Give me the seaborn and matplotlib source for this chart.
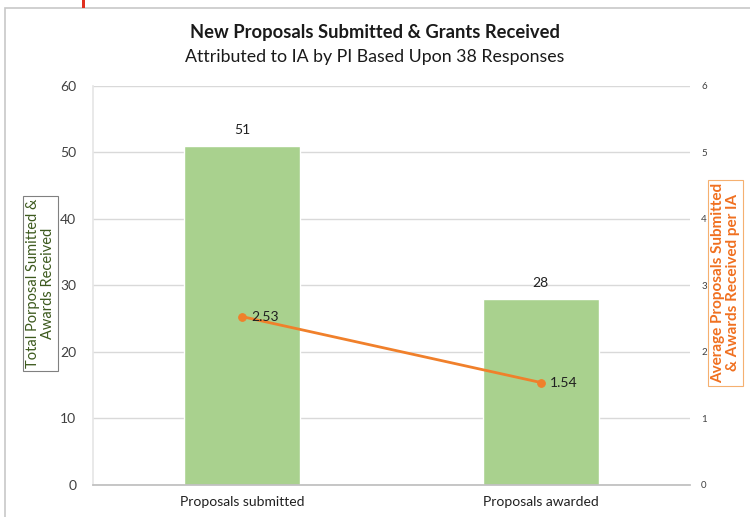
import matplotlib
matplotlib.use("Agg")
import matplotlib.pyplot as plt
import seaborn as sns
import pandas as pd
from matplotlib.patches import Rectangle

categories = ["Proposals submitted", "Proposals awarded"]
totals = [51, 28]
averages = [2.53, 1.54]
left_ticks = [0, 10, 20, 30, 40, 50, 60]
right_ticks = [0, 1, 2, 3, 4, 5, 6]

title = "New Proposals Submitted & Grants Received"
subtitle = "Attributed to IA by PI Based Upon 38 Responses"
left_label = "Total Porposal Sumitted &\nAwards Received"
right_label = "Average Proposals Submitted\n& Awards Received per IA"

sns.set_theme(style="white")
plt.rcParams["font.family"] = ["Lato", "DejaVu Sans"]

bar_color = "#a9d18e"
line_color = "#f0802b"

df = pd.DataFrame({"category": categories, "total": totals, "average": averages})

fig = plt.figure(figsize=(7.5, 5.17), dpi=100)
ax = fig.add_axes([0.124, 0.062, 0.796, 0.772])

sns.barplot(data=df, x="category", y="total", color=bar_color, width=0.39,
            saturation=1, ax=ax, zorder=2)
ax.set_xlim(-0.5, 1.5)
ax.set_ylim(0, 60)
ax.set_yticks(left_ticks)
ax.set_yticklabels([str(t) for t in left_ticks], fontsize=10, color="#404040")
ax.tick_params(axis="x", labelsize=10, colors="#202020", length=0, pad=8)
ax.tick_params(axis="y", length=0, pad=12)
ax.set_xlabel("")
ax.set_ylabel("")
ax.grid(axis="y", color="#d9d9d9", linewidth=1, zorder=0)
for s in ["top", "right"]:
    ax.spines[s].set_visible(False)
ax.spines["left"].set_color("#e6e6e6")
ax.spines["bottom"].set_color("#bfbfbf")

for i, v in enumerate(totals):
    ax.text(i, v + 1.5, f"{v}", ha="center", va="bottom", fontsize=10, color="#202020")

ax2 = ax.twinx()
sns.lineplot(x=[0, 1], y=averages, ax=ax2, color=line_color, linewidth=2,
             marker="o", markersize=5.5, markeredgecolor=line_color, zorder=5)
ax2.set_ylim(0, 6)
ax2.set_yticks(right_ticks)
ax2.set_yticklabels([str(t) for t in right_ticks], fontsize=7, color="#404040")
ax2.tick_params(axis="y", length=0, pad=8)
ax2.set_ylabel("")
for s in ax2.spines.values():
    s.set_visible(False)
for i, v in enumerate(averages):
    ax2.text(i + 0.03, v, f"{v:.2f}", ha="left", va="center", fontsize=10, color="#202020", zorder=6)

fig.text(0.5, 0.937, title, ha="center", va="center", fontsize=13.2, fontweight="bold", color="#1a1a1a")
fig.text(0.5, 0.889, subtitle, ha="center", va="center", fontsize=12.8, color="#1a1a1a")

fig.text(0.054, 0.452, left_label, rotation=90, ha="center", va="center", fontsize=10.5,
         color="#3d5a1e", linespacing=1.05,
         bbox=dict(boxstyle="square,pad=0.2", facecolor="white", edgecolor="#808080", linewidth=0.8))
fig.text(0.967, 0.453, right_label, rotation=90, ha="center", va="center", fontsize=11,
         color="#f07020", fontweight="bold", linespacing=1.05,
         bbox=dict(boxstyle="square,pad=0.2", facecolor="white", edgecolor="#f5b070", linewidth=0.8))

# slide frame and accent mark
fig.patches.append(Rectangle((0.007, -0.1), 1.1, 1.085, transform=fig.transFigure,
                             fill=False, edgecolor="#c8c8c8", linewidth=1.2))
fig.patches.append(Rectangle((0.109, 0.985), 0.004, 0.02, transform=fig.transFigure,
                             facecolor="#e03020", edgecolor="none"))

fig.savefig("out.png", dpi=100)
